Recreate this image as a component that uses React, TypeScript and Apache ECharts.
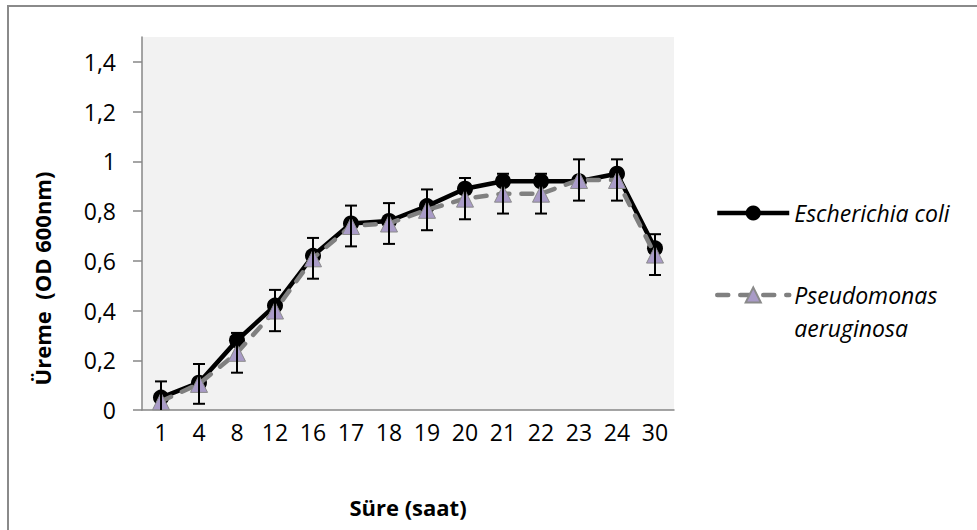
import React, { useEffect, useRef } from "react";
import * as echarts from "echarts";

const hours = ["1", "4", "8", "12", "16", "17", "18", "19", "20", "21", "22", "23", "24", "30"];
const ecoli = [0.05, 0.11, 0.28, 0.42, 0.62, 0.75, 0.76, 0.82, 0.89, 0.92, 0.92, 0.92, 0.95, 0.65];
const pseudomonas = [0.035, 0.105, 0.23, 0.4, 0.61, 0.74, 0.75, 0.805, 0.85, 0.87, 0.87, 0.925, 0.925, 0.625];
const pseudomonasErr = [0.08, 0.08, 0.08, 0.083, 0.082, 0.082, 0.082, 0.082, 0.083, 0.08, 0.08, 0.083, 0.083, 0.082];
const yTicks = [0, 0.2, 0.4, 0.6, 0.8, 1, 1.2, 1.4];

const FONT = "'Open Sans', 'Noto Sans', sans-serif";
const AXIS_GRAY = "#878787";

export default function App() {
  const ref = useRef<HTMLDivElement>(null);
  useEffect(() => {
    if (!ref.current) return;
    const chart = echarts.init(ref.current, undefined, { renderer: "svg" });
    const errData = pseudomonas.map((v, i) => [i, v - pseudomonasErr[i], v + pseudomonasErr[i]]);
    chart.setOption({
      animation: false,
      backgroundColor: "#ffffff",
      textStyle: { fontFamily: FONT },
      graphic: [
        {
          type: "rect",
          shape: { x: 8, y: 6, width: 1100, height: 700 },
          style: { fill: "none", stroke: "#8a8a8a", lineWidth: 2 },
          silent: true,
          z: -1,
        },
      ],
      grid: {
        left: 142,
        top: 37,
        right: 303,
        bottom: 120,
        show: true,
        backgroundColor: "#F2F2F2",
        borderWidth: 0,
      },
      legend: [
        {
          data: ["Escherichia coli"],
          orient: "vertical",
          left: 715,
          top: 198,
          padding: 0,
          itemWidth: 72,
          itemHeight: 19,
          selectedMode: false,
          lineStyle: { color: "#000", width: 4.5 },
          textStyle: { fontFamily: FONT, fontSize: 23, fontStyle: "italic", color: "#000", lineHeight: 30 },
        },
        {
          data: ["Pseudomonas aeruginosa"],
          orient: "vertical",
          left: 715,
          top: 245.5,
          padding: 0,
          itemWidth: 72,
          itemHeight: 19,
          selectedMode: false,
          lineStyle: { color: "#808080", width: 4.5, type: [11, 12], cap: "round" },
          formatter: () => " \nPseudomonas\naeruginosa",
          textStyle: {
            fontFamily: FONT,
            fontSize: 23,
            fontStyle: "italic",
            color: "#000",
            lineHeight: 33,
          },
        },
      ],
      xAxis: {
        type: "category",
        data: hours,
        boundaryGap: true,
        name: "Süre (saat)",
        nameLocation: "middle",
        nameGap: 83,
        nameTextStyle: { fontFamily: FONT, fontSize: 22, fontWeight: "bold", color: "#000", lineHeight: 28 },
        axisLine: { lineStyle: { color: AXIS_GRAY, width: 1.5 } },
        axisTick: { show: false },
        axisLabel: { fontFamily: FONT, fontSize: 23, color: "#000", margin: 10, lineHeight: 24, interval: 0 },
        splitLine: { show: false },
      },
      yAxis: {
        type: "value",
        min: 0,
        max: 1.5,
        name: "Üreme  (OD 600nm)",
        nameLocation: "middle",
        nameGap: 86,
        nameTextStyle: {
          fontFamily: FONT,
          fontSize: 22,
          fontWeight: "bold",
          color: "#000",
          lineHeight: 28,
          padding: [0, 110, 0, 0],
        },
        axisLine: { show: true, lineStyle: { color: AXIS_GRAY, width: 1.5 } },
        axisTick: { show: true, length: 9, customValues: yTicks, lineStyle: { color: AXIS_GRAY, width: 1.5 } },
        axisLabel: {
          fontFamily: FONT,
          fontSize: 23,
          color: "#000",
          margin: 26,
          customValues: yTicks,
          formatter: (v: number) => String(v).replace(".", ","),
        },
        splitLine: { show: false },
      },
      series: [
        {
          name: "Escherichia coli",
          type: "line",
          data: ecoli,
          symbol: "circle",
          symbolSize: 16,
          itemStyle: { color: "#000000" },
          lineStyle: { color: "#000000", width: 4.5 },
          z: 2,
        },
        {
          name: "Pseudomonas aeruginosa",
          type: "line",
          data: pseudomonas,
          symbol: "triangle",
          symbolSize: [17, 17],
          itemStyle: { color: "#A99BC7", borderColor: "#8A8A8A", borderWidth: 1 },
          lineStyle: { color: "#808080", width: 4.5, type: [11, 12], cap: "round" },
          z: 3,
        },
        {
          name: "err",
          type: "custom",
          clip: true,
          z: 4,
          data: errData,
          renderItem: (params: any, api: any) => {
            const x = api.value(0);
            const top = api.coord([x, api.value(2)]);
            const bot = api.coord([x, api.value(1)]);
            const hw = 6;
            const style = { stroke: "#000", lineWidth: 2 };
            return {
              type: "group",
              children: [
                { type: "line", shape: { x1: top[0], y1: top[1], x2: bot[0], y2: bot[1] }, style },
                { type: "line", shape: { x1: top[0] - hw, y1: top[1], x2: top[0] + hw, y2: top[1] }, style },
                { type: "line", shape: { x1: bot[0] - hw, y1: bot[1], x2: bot[0] + hw, y2: bot[1] }, style },
              ],
            };
          },
        },
      ],
    });
    return () => chart.dispose();
  }, []);
  return <div ref={ref} style={{ position: "fixed", left: 0, top: 0, width: 977, height: 530 }} />;
}
